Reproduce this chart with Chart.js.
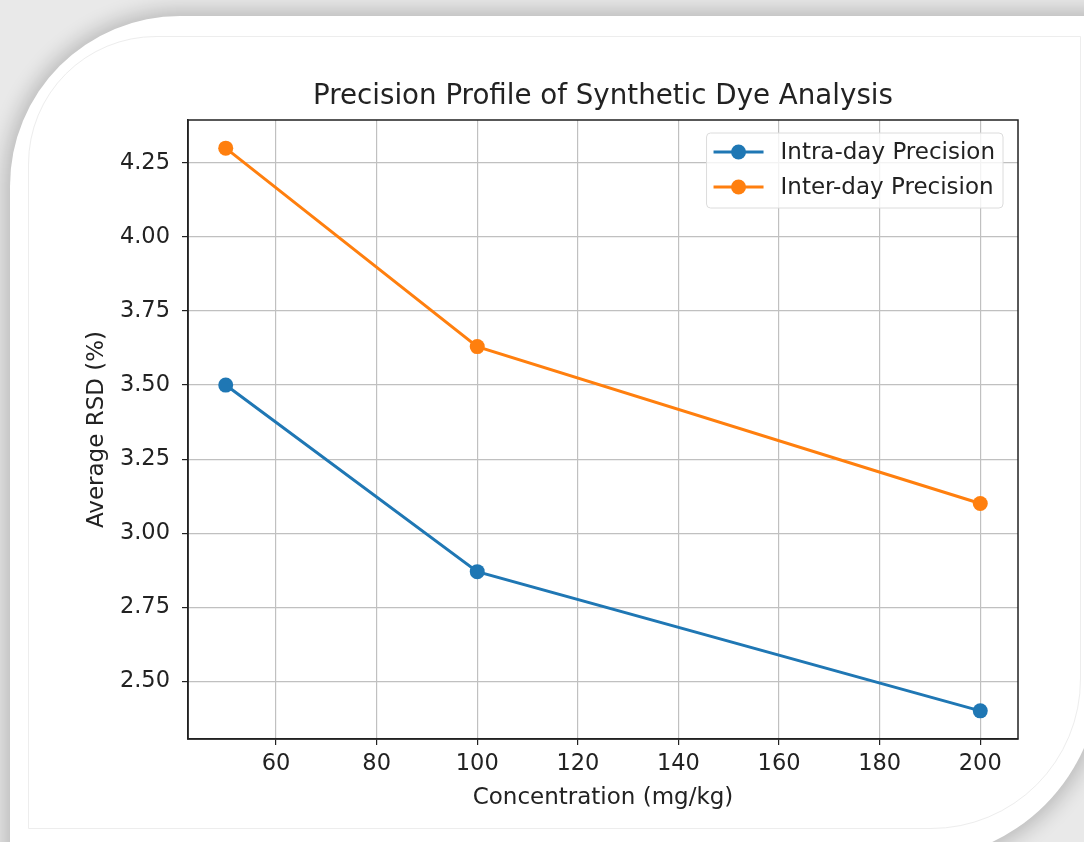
<!DOCTYPE html>
<html>
<head>
<meta charset="utf-8">
<script src="https://cdn.jsdelivr.net/npm/chart.js@4/dist/chart.umd.min.js"></script>
<style>
  html, body { margin: 0; padding: 0; }
  body { width: 1084px; height: 842px; overflow: hidden; position: relative; background: #e9e9e9; }
  #card {
    position: absolute; left: 10px; top: 16px; width: 1090px; height: 844px;
    background: #fff; border-radius: 170px 0 188px 0;
    box-shadow: 0 0 20px 6px rgba(0,0,0,0.2);
  }
  #inner {
    position: absolute; left: 28px; top: 36px; width: 1051px; height: 791px;
    border: 1px solid #ededed; border-radius: 128px 0 150px 0;
  }
  #wrap { position: absolute; left: 0; top: 0; width: 1084px; height: 842px; }
</style>
</head>
<body>
<div id="card"></div>
<div id="inner"></div>
<div id="wrap"><canvas id="grafica"></canvas></div>
<script>
const concentraciones = [50, 100, 200];
const intraDia = [3.50, 2.87, 2.40];
const interDia = [4.30, 3.63, 3.10];
const xTicks = [60, 80, 100, 120, 140, 160, 180, 200];
const yTicks = [2.50, 2.75, 3.00, 3.25, 3.50, 3.75, 4.00, 4.25];
const etiquetas = ["Intra-day Precision", "Inter-day Precision"];
const titulo = "Precision Profile of Synthetic Dye Analysis";
const colores = ["#1f77b4", "#ff7f0e"];

const fuente = "'DejaVu Sans', sans-serif";
const canvas = document.getElementById("grafica");

function puntos(valores) {
  return concentraciones.map((c, i) => ({ x: c, y: valores[i] }));
}

// titulo centrado sobre el area, marco negro arriba/derecha y leyenda dentro
const marcoLeyenda = {
  id: "marcoLeyenda",
  afterDatasetsDraw(chart) {
    const { ctx, chartArea: a } = chart;
    ctx.save();
    ctx.strokeStyle = "#222";
    ctx.lineWidth = 1.5;
    ctx.strokeRect(a.left, a.top, a.right - a.left, a.bottom - a.top);

    ctx.fillStyle = "#222";
    ctx.font = "27.7px " + fuente;
    ctx.textAlign = "center";
    ctx.textBaseline = "middle";
    ctx.fillText(titulo, (a.left + a.right) / 2, a.top - 23);

    ctx.textAlign = "left";
    ctx.font = "23px " + fuente;
    const anchoTexto = Math.max(...etiquetas.map(t => ctx.measureText(t).width));
    const ancho = 74 + anchoTexto + 8;
    const alto = 75;
    const x0 = a.right - 15 - ancho;
    const y0 = a.top + 13;
    ctx.fillStyle = "rgba(255,255,255,0.8)";
    ctx.strokeStyle = "#dcdcdc";
    ctx.lineWidth = 1;
    ctx.beginPath();
    ctx.roundRect(x0, y0, ancho, alto, 4);
    ctx.fill();
    ctx.stroke();

    etiquetas.forEach((t, i) => {
      const y = y0 + 19 + i * 35;
      ctx.strokeStyle = colores[i];
      ctx.lineWidth = 3;
      ctx.beginPath();
      ctx.moveTo(x0 + 7, y);
      ctx.lineTo(x0 + 57, y);
      ctx.stroke();
      ctx.fillStyle = colores[i];
      ctx.beginPath();
      ctx.arc(x0 + 32, y, 7.5, 0, Math.PI * 2);
      ctx.fill();
      ctx.fillStyle = "#222";
      ctx.fillText(t, x0 + 74, y + 1);
    });
    ctx.restore();
  }
};

new Chart(canvas, {
  type: "line",
  data: {
    datasets: [
      {
        label: etiquetas[0],
        data: puntos(intraDia),
        borderColor: colores[0],
        backgroundColor: colores[0],
        borderWidth: 3,
        pointRadius: 7.5,
        pointBorderWidth: 0,
        pointHoverRadius: 7.5
      },
      {
        label: etiquetas[1],
        data: puntos(interDia),
        borderColor: colores[1],
        backgroundColor: colores[1],
        borderWidth: 3,
        pointRadius: 7.5,
        pointBorderWidth: 0,
        pointHoverRadius: 7.5
      }
    ]
  },
  options: {
    responsive: true,
    maintainAspectRatio: false,
    animation: false,
    layout: { padding: { left: 79, right: 66, top: 120, bottom: 26 } },
    plugins: {
      legend: { display: false },
      tooltip: { enabled: false },
      title: { display: false }
    },
    scales: {
      x: {
        type: "linear",
        min: 42.5,
        max: 207.5,
        afterBuildTicks: s => { s.ticks = xTicks.map(v => ({ value: v })); },
        afterFit: s => { s.height = 77; },
        grid: { color: "#c0c0c0", lineWidth: 1.2, tickColor: "#222", tickLength: 6 },
        border: { display: true, color: "#222", width: 1.5 },
        ticks: { color: "#222", font: { family: fuente, size: 22.5 }, padding: 6, maxRotation: 0 },
        title: {
          display: true,
          text: "Concentration (mg/kg)",
          color: "#222",
          font: { family: fuente, size: 23 },
          padding: { top: 4, bottom: 4 }
        }
      },
      y: {
        type: "linear",
        min: 2.305,
        max: 4.395,
        afterBuildTicks: s => { s.ticks = yTicks.map(v => ({ value: v })); },
        afterFit: s => { s.width = 109; },
        grid: { color: "#c0c0c0", lineWidth: 1.2, tickColor: "#222", tickLength: 6 },
        border: { display: true, color: "#222", width: 1.5 },
        ticks: {
          color: "#222",
          font: { family: fuente, size: 22.5 },
          padding: 12,
          callback: v => v.toFixed(2)
        },
        title: {
          display: true,
          text: "Average RSD (%)",
          color: "#222",
          font: { family: fuente, size: 23 },
          padding: { top: 4, bottom: 4 }
        }
      }
    }
  },
  plugins: [marcoLeyenda]
});
</script>
</body>
</html>
